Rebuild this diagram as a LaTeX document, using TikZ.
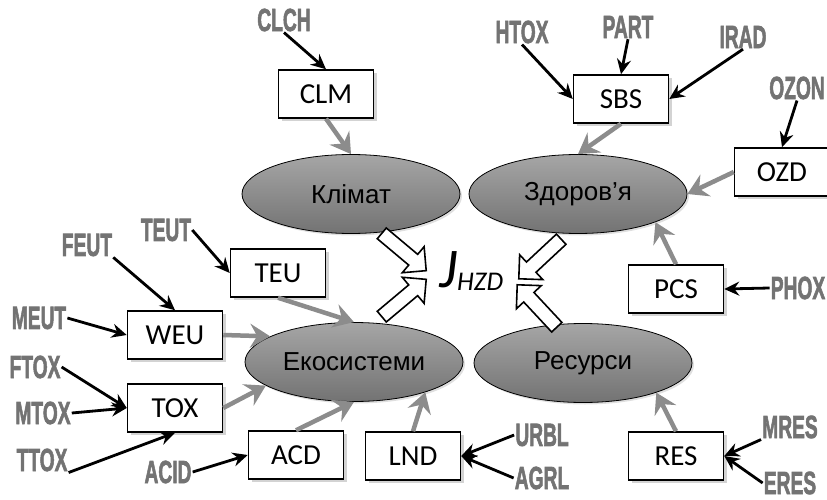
\documentclass[tikz,border=0pt]{standalone}
\usepackage{fontspec}
\setmainfont{Liberation Sans}[BoldFont={Liberation Sans Bold}]
\newfontfamily\boxfont{Carlito}[ItalicFont={Carlito Italic}]
\newfontfamily\lblfont{Liberation Sans Bold}[FakeBold=2.5]
\usetikzlibrary{arrows.meta,shapes.geometric,shadows}
\newcommand{\narrow}[1]{\scalebox{.6}[1]{#1}}

\tikzset{
  blk/.style={line width=2.8pt,-{Stealth[length=15pt,width=14pt,inset=5pt]}},
  gry/.style={line width=4.5pt,black!45,-{Stealth[length=20pt,width=24pt,inset=7pt]}},
  box/.style={draw,line width=1.5pt,fill=white,minimum width=95pt,minimum height=48pt,inner sep=0pt,
    font=\boxfont\fontsize{29}{29}\selectfont,
    drop shadow={shadow xshift=3pt,shadow yshift=-3pt,opacity=.35}},
  area/.style={ellipse,draw,line width=.8pt,top color=black!35,bottom color=black!55,
    minimum width=218pt,minimum height=79pt,inner sep=0pt,font=\fontsize{26}{26}\selectfont,
    drop shadow={shadow xshift=2pt,shadow yshift=-2pt,opacity=.25}},
  lbl/.style={inner sep=1pt,text=black!55,font=\lblfont\fontsize{32}{32}\selectfont},
  harrow/.pic={\draw[line width=1.6pt,fill=white] (-29,-7) -- (12,-7) -- (12,-17) -- (29,0)
    -- (12,17) -- (12,7) -- (-29,7) -- cycle;}
}

\begin{document}
\begin{tikzpicture}[x=1pt,y=-1pt]
\useasboundingbox (0,0) rectangle (827,500);
% areas
\node[area] (klim) at (351,194) {Клімат};
\node[area] (zdor) at (578,194) {Здоров’я};
\node[area] (eko) at (354,362) {Екосистеми};
\node[area] (resur) at (583,363) {Ресурси};
% indicators
\node[box] (clm) at (326,94) {CLM};
\node[box] (sbs) at (621,99) {SBS};
\node[box] (ozd) at (782,172) {OZD};
\node[box] (pcs) at (676,289) {PCS};
\node[box] (res) at (676,456) {RES};
\node[box] (lnd) at (413,456) {LND};
\node[box] (acd) at (296,455) {ACD};
\node[box] (tox) at (175,408) {TOX};
\node[box] (weu) at (175,335) {WEU};
\node[box] (teu) at (278,273) {TEU};
% inputs
\node[lbl] (clch) at (284,20) {\narrow{CLCH}};
\node[lbl] (htox) at (522,32) {\narrow{HTOX}};
\node[lbl] (part) at (628,27) {\narrow{PART}};
\node[lbl] (irad) at (743,37) {\narrow{IRAD}};
\node[lbl] (ozon) at (797,88) {\narrow{OZON}};
\node[lbl] (phox) at (798,288) {\narrow{PHOX}};
\node[lbl] (mres) at (790,427) {\narrow{MRES}};
\node[lbl] (eres) at (790,483) {\narrow{ERES}};
\node[lbl] (urbl) at (542,435) {\narrow{URBL}};
\node[lbl] (agrl) at (542,478) {\narrow{AGRL}};
\node[lbl] (acid) at (168,472) {\narrow{ACID}};
\node[lbl] (ttox) at (42,460) {\narrow{TTOX}};
\node[lbl] (mtox) at (43,413) {\narrow{MTOX}};
\node[lbl] (ftox) at (35,367) {\narrow{FTOX}};
\node[lbl] (meut) at (39,318) {\narrow{MEUT}};
\node[lbl] (feut) at (87,245) {\narrow{FEUT}};
\node[lbl] (teut) at (166,230) {\narrow{TEUT}};
% index
\node[anchor=base west,inner sep=0pt] (jhzd) at (439,287) {\boxfont\itshape\fontsize{56}{56}\selectfont J\fontsize{27}{27}\selectfont\raisebox{-3pt}{HZD}};
\pic[rotate=-40] at (404,252) {harrow};
\pic[rotate=40] at (404,298) {harrow};
\pic[rotate=-137] at (540,259) {harrow};
\pic[rotate=133] at (537,306) {harrow};
% gray arrows
\draw[gry] (clm.south) -- (klim.north);
\draw[gry] (sbs.south) -- (zdor.north);
\draw[gry] (ozd.west) -- (zdor.east);
\draw[gry] (pcs.north) -- (zdor.-20);
\draw[gry] (res.north) -- (resur.-22);
\draw[gry] (lnd.north) -- (eko.-23);
\draw[gry] (acd.north) -- (eko.south);
\draw[gry] (tox.east) -- (eko.195);
\draw[gry] (weu.east) -- (eko.163);
\draw[gry] (teu.south) -- (eko.north);
% black arrows
\draw[blk] (clch.south) -- (clm.north);
\draw[blk] (htox.south) -- (sbs.west);
\draw[blk] (part.south) -- (sbs.north);
\draw[blk] (irad.south) -- (sbs.east);
\draw[blk] (ozon.south) -- (ozd.north);
\draw[blk] (phox.west) -- (pcs.east);
\draw[blk] (mres.south west) -- (res.east);
\draw[blk] (eres.west) -- (res.east);
\draw[blk] (urbl.west) -- (lnd.east);
\draw[blk] (agrl.west) -- (lnd.east);
\draw[blk] (acid.east) -- (acd.west);
\draw[blk] (ttox.south east) -- (tox.south);
\draw[blk] (mtox.east) -- (tox.west);
\draw[blk] (ftox.east) -- (tox.west);
\draw[blk] (meut.east) -- (weu.west);
\draw[blk] (feut.south east) -- (weu.north);
\draw[blk] (teut.east) -- (teu.west);
\end{tikzpicture}
\end{document}
